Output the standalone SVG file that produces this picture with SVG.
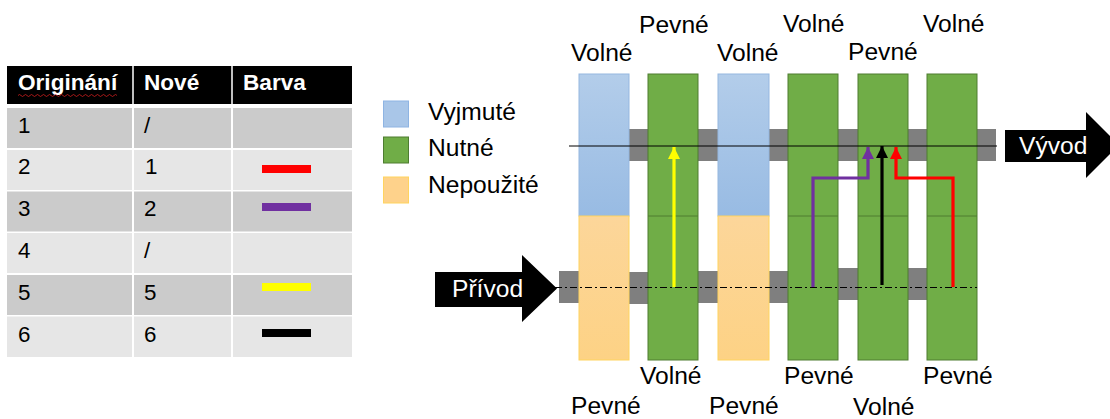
<svg xmlns="http://www.w3.org/2000/svg" width="1110" height="419" viewBox="0 0 1110 419">
<defs>
<style>
.t{font-family:"Liberation Sans",Arial,sans-serif;fill:#000}
.tb{font-family:"Liberation Sans",Arial,sans-serif;font-weight:bold;fill:#fff;font-size:22.6px}
.tc{font-size:22.4px}
.lb{font-size:24.6px}
.odd{fill:#cbcbcb}
.even{fill:#e6e6e6}
.blue{fill:url(#gb);stroke:#95b7e0;stroke-width:1}
.orange{fill:url(#go);stroke:#ffd45f;stroke-width:1}
.green{fill:#70ad47;stroke:#4e7d31;stroke-width:1}
.grey{fill:#7f7f7f}
.path{fill:none;stroke-width:3.2}
</style>
<linearGradient id="gb" x1="0" y1="0" x2="0" y2="1"><stop offset="0" stop-color="#b3cdea"/><stop offset="1" stop-color="#98bbe3"/></linearGradient>
<linearGradient id="go" x1="0" y1="0" x2="0" y2="1"><stop offset="0" stop-color="#fcd69a"/><stop offset="1" stop-color="#fdd285"/></linearGradient>
<marker id="ay" viewBox="0 0 10 10" refX="10" refY="5" markerWidth="3.8" markerHeight="3.8" markerUnits="strokeWidth" orient="auto"><path d="M0,0 L10,5 L0,10 z" fill="#ffff00"/></marker>
<marker id="ap" viewBox="0 0 10 10" refX="10" refY="5" markerWidth="3.8" markerHeight="3.8" markerUnits="strokeWidth" orient="auto"><path d="M0,0 L10,5 L0,10 z" fill="#7030a0"/></marker>
<marker id="ak" viewBox="0 0 10 10" refX="10" refY="5" markerWidth="3.8" markerHeight="3.8" markerUnits="strokeWidth" orient="auto"><path d="M0,0 L10,5 L0,10 z" fill="#000"/></marker>
<marker id="ar" viewBox="0 0 10 10" refX="10" refY="5" markerWidth="3.8" markerHeight="3.8" markerUnits="strokeWidth" orient="auto"><path d="M0,0 L10,5 L0,10 z" fill="#ff0000"/></marker>
</defs>
<rect width="1110" height="419" fill="#fff"/>

<g id="table">
<rect x="7" y="66" width="345" height="38" fill="#000"/>
<line x1="133" y1="66" x2="133" y2="104" stroke="#fff" stroke-width="1.5"/>
<line x1="232" y1="66" x2="232" y2="104" stroke="#fff" stroke-width="1.5"/>
<text class="tb" x="18" y="90">Originání</text>
<path d="M18,95.5 q1.5,-2 3,0 t3,0 t3,0 t3,0 t3,0 t3,0 t3,0 t3,0 t3,0 t3,0 t3,0 t3,0 t3,0 t3,0 t3,0 t3,0 t3,0 t3,0 t3,0 t3,0 t3,0 t3,0 t3,0 t3,0 t3,0 t3,0 t3,0 t3,0 t3,0 t3,0 t3,0 t3,0 t3,0" fill="none" stroke="#d02020" stroke-width="0.8"/>
<text class="tb" x="144" y="90">Nové</text>
<text class="tb" x="243" y="90">Barva</text>

<g class="odd"><rect x="7" y="108" width="125" height="40"/><rect x="134" y="108" width="97" height="40"/><rect x="233" y="108" width="119" height="40"/></g>
<g class="even"><rect x="7" y="150" width="125" height="40"/><rect x="134" y="150" width="97" height="40"/><rect x="233" y="150" width="119" height="40"/></g>
<g class="odd"><rect x="7" y="191.5" width="125" height="40"/><rect x="134" y="191.5" width="97" height="40"/><rect x="233" y="191.5" width="119" height="40"/></g>
<g class="even"><rect x="7" y="233" width="125" height="40"/><rect x="134" y="233" width="97" height="40"/><rect x="233" y="233" width="119" height="40"/></g>
<g class="odd"><rect x="7" y="275" width="125" height="40"/><rect x="134" y="275" width="97" height="40"/><rect x="233" y="275" width="119" height="40"/></g>
<g class="even"><rect x="7" y="316.5" width="125" height="40.5"/><rect x="134" y="316.5" width="97" height="40.5"/><rect x="233" y="316.5" width="119" height="40.5"/></g>

<g class="t tc">
<text x="18" y="133">1</text><text x="144" y="133">/</text>
<text x="18" y="174">2</text><text x="145" y="174">1</text>
<text x="18" y="216">3</text><text x="144" y="216">2</text>
<text x="18" y="258">4</text><text x="144" y="258">/</text>
<text x="18" y="300">5</text><text x="144" y="300">5</text>
<text x="18" y="342">6</text><text x="144" y="342">6</text>
</g>
<rect x="262" y="165" width="49" height="8" fill="#ff0000"/>
<rect x="262" y="203" width="49" height="8" fill="#7030a0"/>
<rect x="262" y="283" width="49" height="8" fill="#ffff00"/>
<rect x="262" y="329" width="49" height="8" fill="#000"/>
</g>

<g id="legend">
<rect x="383.5" y="101" width="25" height="26" fill="#a9c6e8" stroke="#8eb4e3"/>
<rect x="383.5" y="137" width="25" height="26" fill="#70ad47" stroke="#4e7d31"/>
<rect x="383.5" y="177" width="25" height="26" fill="#fed28b" stroke="#ffd45f"/>
<text class="t lb" x="428" y="120">Vyjmuté</text>
<text class="t lb" x="428" y="156">Nutné</text>
<text class="t lb" x="428" y="193">Nepoužité</text>
</g>

<g id="inlet">
<polygon points="435,272 522,272 522,255 557,288.5 522,322 522,307 435,307" fill="#000"/>
<text x="452" y="297" font-family="Liberation Sans, Arial, sans-serif" font-size="24.6" fill="#fff">Přívod</text>
</g>
<g id="outlet">
<polygon points="1005,130 1086,130 1086,112 1119,145 1086,178 1086,162 1005,162" fill="#000"/>
<text x="1019" y="154" font-family="Liberation Sans, Arial, sans-serif" font-size="24.6" fill="#fff">Vývod</text>
</g>

<g id="connectors-grey" class="grey">
<rect x="629" y="129" width="19" height="32"/>
<rect x="698" y="129" width="20" height="32"/>
<rect x="769" y="129" width="19" height="32"/>
<rect x="838" y="129" width="20" height="32"/>
<rect x="908" y="129" width="19" height="32"/>
<rect x="977" y="129" width="19" height="32"/>
<rect x="559" y="271" width="20" height="32"/>
<rect x="629" y="272" width="19" height="32"/>
<rect x="698" y="271" width="20" height="32"/>
<rect x="769" y="271" width="19" height="32"/>
<rect x="838" y="268" width="20" height="32"/>
<rect x="908" y="268" width="19" height="32"/>
</g>

<g id="col1"><rect class="blue" x="579" y="74" width="50" height="142"/><rect class="orange" x="579" y="216" width="50" height="144"/></g>
<g id="col2"><rect class="green" x="648" y="74" width="50" height="286"/><line x1="648" y1="216" x2="698" y2="216" stroke="#4e7d31"/></g>
<g id="col3"><rect class="blue" x="718" y="74" width="51" height="142"/><rect class="orange" x="718" y="216" width="51" height="144"/></g>
<g id="col4"><rect class="green" x="788" y="74" width="50" height="286"/><line x1="788" y1="216" x2="838" y2="216" stroke="#4e7d31"/></g>
<g id="col5"><rect class="green" x="858" y="74" width="50" height="286"/><line x1="858" y1="216" x2="908" y2="216" stroke="#4e7d31"/></g>
<g id="col6"><rect class="green" x="927" y="74" width="50" height="286"/><line x1="927" y1="216" x2="977" y2="216" stroke="#4e7d31"/></g>

<g id="lines">
<line x1="569" y1="146" x2="997" y2="146" stroke="#000" stroke-width="1"/>
<line x1="555" y1="287.5" x2="977" y2="287.5" stroke="#000" stroke-width="1" stroke-dasharray="7,3,2,3"/>
</g>

<g id="connectors">
<path class="path" d="M674,287 V147" stroke="#ffff00" marker-end="url(#ay)"/>
<path class="path" d="M813,287 V178 H868 V147" stroke="#7030a0" marker-end="url(#ap)"/>
<path class="path" d="M882,285 V146" stroke="#000" marker-end="url(#ak)"/>
<path class="path" d="M953,287 V178 H896 V147" stroke="#ff0000" marker-end="url(#ar)"/>
</g>

<g id="labels" class="t lb">
<text x="571" y="61">Volné</text>
<text x="639" y="33">Pevné</text>
<text x="717" y="61">Volné</text>
<text x="783" y="32">Volné</text>
<text x="848" y="60">Pevné</text>
<text x="923" y="32">Volné</text>
<text x="640" y="384">Volné</text>
<text x="784" y="384">Pevné</text>
<text x="923" y="384">Pevné</text>
<text x="571" y="414">Pevné</text>
<text x="709" y="414">Pevné</text>
<text x="853" y="415">Volné</text>
</g>
</svg>
